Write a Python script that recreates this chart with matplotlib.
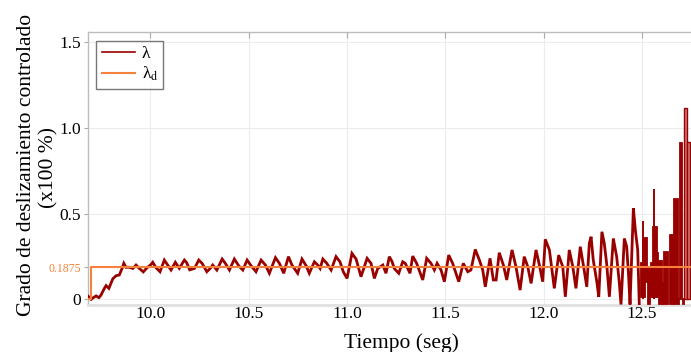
import matplotlib
matplotlib.use("Agg")
import matplotlib.pyplot as plt

plt.rcParams['font.family'] = ['Liberation Serif', 'DejaVu Serif']
plt.rcParams['mathtext.fontset'] = 'stix'

# ---- data ----
t_lam = [9.682, 9.699, 9.710, 9.724, 9.738, 9.749, 9.766, 9.775, 9.789, 9.809,
         9.826, 9.842, 9.856, 9.865, 9.876, 9.893, 9.911, 9.927, 9.944, 9.964,
         9.982, 10.004, 10.012, 10.029, 10.049, 10.071, 10.088, 10.105, 10.127, 10.147,
         10.173, 10.184, 10.200, 10.224, 10.246, 10.263, 10.287, 10.304, 10.317, 10.338,
         10.365, 10.381, 10.402, 10.427, 10.449, 10.470, 10.492, 10.512, 10.537, 10.563,
         10.585, 10.605, 10.636, 10.656, 10.678, 10.702, 10.720, 10.749, 10.771, 10.792,
         10.808, 10.834, 10.851, 10.863, 10.877, 10.897, 10.919, 10.944, 10.964, 10.981,
         11.000, 11.025, 11.046, 11.071, 11.102, 11.122, 11.139, 11.156, 11.182, 11.198,
         11.215, 11.229, 11.240, 11.263, 11.283, 11.296, 11.320, 11.334, 11.354, 11.385,
         11.405, 11.427, 11.444, 11.458, 11.478, 11.495, 11.517, 11.537, 11.568, 11.591,
         11.614, 11.630, 11.652, 11.673, 11.690, 11.703, 11.727, 11.744, 11.758, 11.774,
         11.795, 11.812, 11.839, 11.859, 11.880, 11.901, 11.919, 11.936, 11.961, 11.978,
         11.995, 12.008, 12.029, 12.054, 12.076, 12.097, 12.110, 12.130, 12.148, 12.164,
         12.186, 12.203, 12.219, 12.232, 12.241, 12.252, 12.270, 12.280, 12.296, 12.308,
         12.320, 12.334, 12.354, 12.371, 12.384, 12.393, 12.410, 12.422, 12.432, 12.439,
         12.456, 12.466, 12.478, 12.486]
lam = [0.02, 0.0, 0.01, 0.02, 0.01, 0.025, 0.064, 0.08, 0.064, 0.12,
       0.138, 0.142, 0.18, 0.21, 0.187, 0.187, 0.18, 0.20, 0.18, 0.16,
       0.183, 0.204, 0.216, 0.184, 0.161, 0.229, 0.2, 0.171, 0.216, 0.181,
       0.229, 0.215, 0.172, 0.18, 0.229, 0.21, 0.161, 0.18, 0.2, 0.171,
       0.235, 0.21, 0.171, 0.235, 0.196, 0.171, 0.229, 0.196, 0.161, 0.229,
       0.2, 0.152, 0.243, 0.21, 0.152, 0.249, 0.2, 0.152, 0.235, 0.196,
       0.152, 0.219, 0.2, 0.18, 0.235, 0.21, 0.171, 0.249, 0.219, 0.161,
       0.122, 0.268, 0.235, 0.132, 0.239, 0.21, 0.122, 0.18, 0.2, 0.152,
       0.249, 0.22, 0.18, 0.152, 0.219, 0.21, 0.152, 0.252, 0.21, 0.113,
       0.239, 0.21, 0.171, 0.21, 0.171, 0.103, 0.258, 0.21, 0.103, 0.21,
       0.161, 0.171, 0.291, 0.229, 0.171, 0.073, 0.239, 0.113, 0.113, 0.272,
       0.2, 0.113, 0.288, 0.19, 0.054, 0.249, 0.19, 0.093, 0.288, 0.2,
       0.103, 0.35, 0.288, 0.064, 0.258, 0.19, 0.015, 0.288, 0.19, 0.064,
       0.307, 0.19, 0.073, 0.327, 0.365, 0.229, 0.103, 0.015, 0.394, 0.327,
       0.21, 0.015, 0.355, 0.249, 0.103, -0.03, 0.355, 0.307, 0.132, -0.03,
       0.531, 0.404, 0.288, -0.03]

# chattering segments at the end (time start, time end, low, high)
chat_t0 = [12.488, 12.502, 12.514, 12.527, 12.538, 12.551, 12.574, 12.583, 12.600, 12.608,
           12.636, 12.656, 12.681, 12.689, 12.705]
chat_t1 = [12.499, 12.514, 12.525, 12.538, 12.551, 12.574, 12.583, 12.600, 12.608, 12.634,
           12.656, 12.681, 12.689, 12.705, 12.713]
chat_lo = [0.015, 0.015, 0.10, -0.03, 0.015, 0.015, 0.015, -0.03, -0.03, -0.03,
           -0.03, -0.03, -0.03, 0.0, -0.03]
chat_hi = [0.219, 0.365, 0.365, 0.19, 0.219, 0.43, 0.278, 0.229, 0.10, 0.28,
           0.379, 0.589, 0.01, 0.919, 0.01]
# last two segments drawn lighter
chat2_t0 = [12.713, 12.729]
chat2_t1 = [12.729, 12.745]
chat2_lo = [0.0, 0.0]
chat2_hi = [1.114, 0.919]
# thin spikes
spike_t = [12.503, 12.561]
spike_hi = [0.458, 0.641]

t_ref = [9.683, 9.697, 9.697, 12.749]
lam_ref = [0.0, 0.0, 0.1875, 0.1875]

xticks = [10.0, 10.5, 11.0, 11.5, 12.0, 12.5]
yticks = [0, 0.5, 1.0, 1.5]
ref_tick = 0.1875

RED = '#990000'
ORANGE = '#f4823c'

fig = plt.figure(figsize=(6.91, 3.52), dpi=100)
ax = fig.add_axes([0.1274, 0.1335, 0.8726, 0.7756])

ax.plot(t_lam, lam, color=RED, lw=2.0, zorder=3, solid_joinstyle='miter')
for a, b, lo, hi in zip(chat_t0, chat_t1, chat_lo, chat_hi):
    ax.bar(a, hi - lo, bottom=lo, width=b - a, align='edge', color=RED,
           edgecolor=RED, linewidth=0.6, zorder=3)
for a, b, lo, hi in zip(chat2_t0, chat2_t1, chat2_lo, chat2_hi):
    ax.bar(a, hi - lo, bottom=lo, width=b - a, align='edge', facecolor='#cf7a7a',
           edgecolor=RED, linewidth=1.0, zorder=3)
ax.vlines(spike_t, 0.0, spike_hi, color=RED, lw=1.4, zorder=3)
line_lam, = ax.plot([], [], color=RED, lw=1.2, label='λ')

line_ref, = ax.plot(t_ref, lam_ref, color=ORANGE, lw=1.5, zorder=4,
                    label='λ$_{\\mathrm{d}}$')

ax.set_xlim(9.683, 12.749)
ax.set_ylim(-0.033, 1.5586)

ax.set_xticks(xticks)
ax.set_xticklabels([f'{v:.1f}' for v in xticks], fontsize=12.5)
ax.set_yticks(yticks + [ref_tick])
labels = ['0', '0.5', '1.0', '1.5', '0.1875']
ax.set_yticklabels(labels, fontsize=12.5)
for tl in ax.get_yticklabels():
    if tl.get_text() == '0.1875':
        tl.set_color(ORANGE)
        tl.set_fontsize(8.5)

ax.grid(True, color='#ececec', lw=0.8, zorder=0)
ax.set_axisbelow(True)
for s in ['left', 'top', 'bottom']:
    ax.spines[s].set_color('#bdbdbd')
    ax.spines[s].set_linewidth(1.0)
ax.spines['bottom'].set_color('#e0e0e0')
ax.spines['bottom'].set_linewidth(2.0)
ax.spines['right'].set_visible(False)
ax.tick_params(axis='x', bottom=False, top=True, direction='in', length=4,
               color='#aaaaaa', pad=1)
ax.tick_params(axis='y', left=True, direction='out', length=3, color='#aaaaaa', pad=2)

ax.set_xlabel('Tiempo (seg)', fontsize=15.5)
ax.xaxis.set_label_coords(0.519, -0.105)

fig.text(27 / 691, 1 - 165 / 352, 'Grado de deslizamiento controlado',
         rotation=90, ha='center', va='center', fontsize=15.5)
fig.text(49 / 691, 1 - 168 / 352, '(x100 %)',
         rotation=90, ha='center', va='center', fontsize=15.5)

leg = ax.legend(handles=[line_lam, line_ref], loc='upper left',
                bbox_to_anchor=(0.014, 0.967), fontsize=12.5, frameon=True,
                fancybox=False, handlelength=1.9, borderpad=0.3,
                labelspacing=0.15, handletextpad=0.4, borderaxespad=0)
leg.get_frame().set_edgecolor('#555555')
leg.get_frame().set_linewidth(1.0)

fig.savefig('out.png', dpi=100)
